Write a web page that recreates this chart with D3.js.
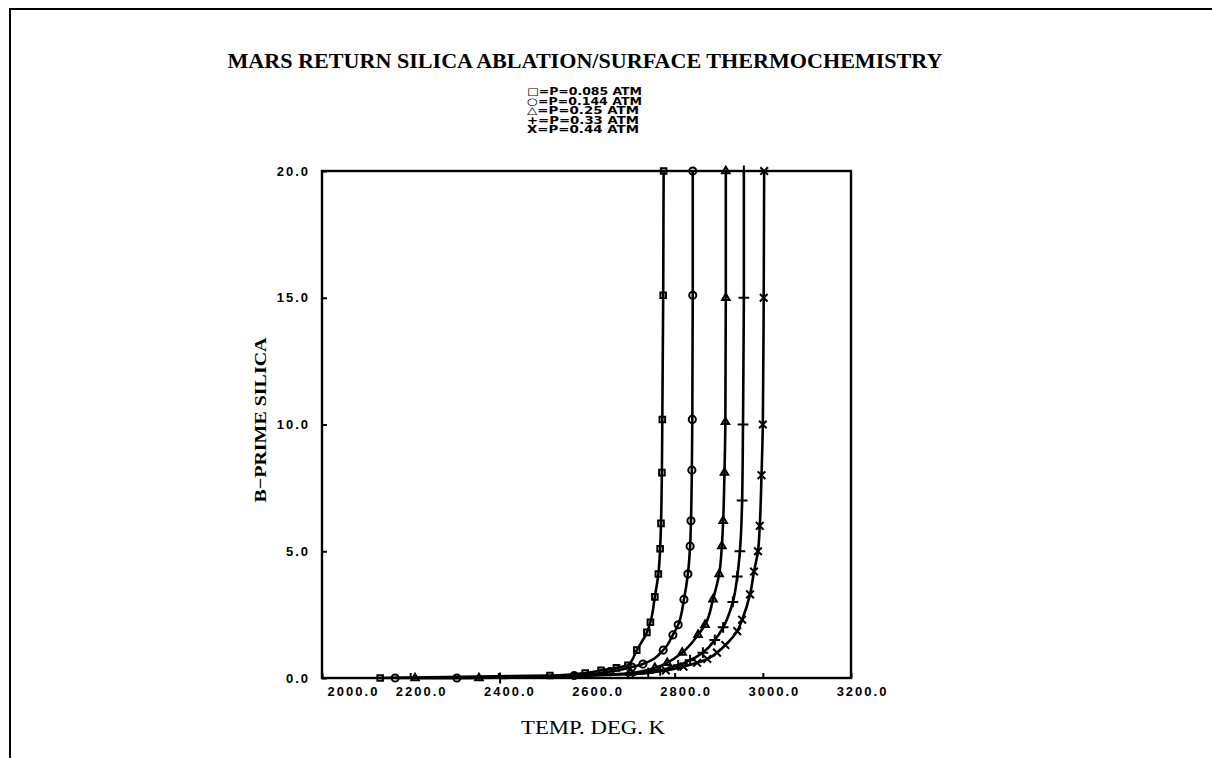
<!DOCTYPE html>
<html>
<head>
<meta charset="utf-8">
<script src="https://cdn.jsdelivr.net/npm/d3@7"></script>
<style>
  body { margin: 0; background: #fff; }
  svg { display: block; }
  .tick text { font-family: "Liberation Sans", Arial, sans-serif; font-weight: bold; font-size: 13px; letter-spacing: 2px; fill: #000; }
  .tick line { stroke: #000; stroke-width: 2; }
</style>
</head>
<body>
<svg id="chart" width="1212" height="758"></svg>
<script>
// series: temperature (K) and B-prime values
var tempSquare = [2132, 2517, 2597, 2633, 2668, 2694, 2714, 2737, 2745, 2755, 2763, 2767, 2769, 2771, 2772, 2774, 2775];
var bSquare    = [0, 0.1, 0.2, 0.3, 0.4, 0.5, 1.1, 1.8, 2.2, 3.2, 4.1, 5.1, 6.1, 8.1, 10.2, 15.1, 20.0];

var tempCircle = [2166, 2306, 2572, 2653, 2703, 2728, 2774, 2796, 2808, 2821, 2830, 2835, 2837, 2839, 2840, 2841, 2841];
var bCircle    = [0, 0, 0.1, 0.25, 0.43, 0.55, 1.1, 1.7, 2.1, 3.1, 4.1, 5.2, 6.2, 8.2, 10.2, 15.1, 20.0];

var tempTriangle = [2211, 2356, 2700, 2755, 2783, 2817, 2853, 2869, 2887, 2901, 2907, 2910, 2913, 2915, 2916, 2916];
var bTriangle    = [0, 0, 0.2, 0.4, 0.6, 1.0, 1.7, 2.1, 3.1, 4.1, 5.2, 6.2, 8.1, 10.1, 15.0, 20.0];

var tempPlus = [2404, 2740, 2767, 2808, 2835, 2864, 2891, 2910, 2932, 2942, 2948, 2953, 2955, 2957, 2957];
var bPlus    = [0, 0.2, 0.3, 0.5, 0.7, 1.0, 1.5, 2.0, 3.0, 4.0, 5.0, 7.0, 10.0, 15.0, 20.0];

var tempCross = [2700, 2780, 2820, 2851, 2874, 2896, 2915, 2942, 2953, 2971, 2980, 2989, 2993, 2997, 3000, 3002, 3003];
var bCross    = [0.15, 0.3, 0.45, 0.6, 0.75, 1.0, 1.3, 1.85, 2.3, 3.3, 4.2, 5.0, 6.0, 8.0, 10.0, 15.0, 20.0];

var legendLabels = ["\u25A1=P=0.085 ATM", "\u25CB=P=0.144 ATM", "\u25B3=P=0.25 ATM", "+=P=0.33 ATM", "X=P=0.44 ATM"];
var xTicks = [2000, 2200, 2400, 2600, 2800, 3000, 3200];
var yTicks = [0, 5, 10, 15, 20];

var series = [
  {t: tempSquare, b: bSquare, sym: d3.symbolSquare2},
  {t: tempCircle, b: bCircle, sym: d3.symbolCircle},
  {t: tempTriangle, b: bTriangle, sym: d3.symbolTriangle2},
  {t: tempPlus, b: bPlus, sym: d3.symbolPlus},
  {t: tempCross, b: bCross, sym: d3.symbolTimes}
];

var svg = d3.select("#chart");
var M = {left: 322, top: 171},
    W = 529, H = 507;

// page border from the scan
svg.append("path")
  .attr("d", "M1212,9 L10,9 L10,758")
  .attr("fill", "none").attr("stroke", "#000").attr("stroke-width", 2);

svg.append("text")
  .attr("x", 585).attr("y", 68)
  .attr("text-anchor", "middle")
  .attr("textLength", 715).attr("lengthAdjust", "spacingAndGlyphs")
  .style("font-family", "'Liberation Serif', 'Times New Roman', serif")
  .style("font-weight", "bold")
  .style("font-size", "21px")
  .text("MARS RETURN SILICA ABLATION/SURFACE THERMOCHEMISTRY");

svg.append("g").selectAll("text")
  .data(legendLabels)
  .join("text")
  .attr("x", 527)
  .attr("y", function (d, i) { return 95 + i * 9.5; })
  .attr("textLength", function (d, i) { return i < 2 ? 115 : 112; })
  .attr("lengthAdjust", "spacingAndGlyphs")
  .style("font-family", "'DejaVu Sans', sans-serif")
  .style("font-weight", "bold")
  .style("font-size", "10px")
  .text(function (d) { return d; });

var x = d3.scaleLinear().domain([2000, 3200]).range([0, W]);
var y = d3.scaleLinear().domain([0, 20]).range([H, 0]);

var g = svg.append("g").attr("transform", "translate(" + M.left + "," + M.top + ")");

g.append("rect")
  .attr("width", W).attr("height", H)
  .attr("fill", "none").attr("stroke", "#000").attr("stroke-width", 2.4);

var yAxis = g.append("g")
  .call(d3.axisLeft(y).tickValues(yTicks).tickSize(-5).tickPadding(12).tickFormat(d3.format(".1f")));
yAxis.select(".domain").remove();

var xAxis = g.append("g")
  .attr("transform", "translate(0," + H + ")")
  .call(d3.axisBottom(x).tickValues(xTicks).tickSize(-5).tickPadding(9).tickFormat(d3.format(".1f")));
xAxis.select(".domain").remove();
xAxis.selectAll(".tick text").attr("dx", function (d) { return d === 2000 ? 31 : 11; });

var line = d3.line()
  .x(function (d) { return x(d[0]); })
  .y(function (d) { return y(d[1]); })
  .curve(d3.curveMonotoneY);

series.forEach(function (s) {
  var pts = s.t.map(function (t, i) { return [t, s.b[i]]; });
  g.append("path")
    .attr("d", line(pts))
    .attr("fill", "none").attr("stroke", "#000").attr("stroke-width", 2.6);
  g.append("g").selectAll("path")
    .data(pts)
    .join("path")
    .attr("transform", function (d) { return "translate(" + x(d[0]) + "," + y(d[1]) + ")"; })
    .attr("d", d3.symbol().type(s.sym).size(40))
    .attr("fill", "none").attr("stroke", "#000").attr("stroke-width", 2);
});

svg.append("text")
  .attr("transform", "translate(266,420) rotate(-90)")
  .attr("text-anchor", "middle")
  .attr("textLength", 165).attr("lengthAdjust", "spacingAndGlyphs")
  .style("font-family", "'Liberation Serif', 'Times New Roman', serif")
  .style("font-weight", "bold")
  .style("font-size", "17px")
  .text("B\u2212PRIME SILICA");

svg.append("text")
  .attr("x", 593).attr("y", 734)
  .attr("text-anchor", "middle")
  .attr("textLength", 144).attr("lengthAdjust", "spacingAndGlyphs")
  .style("font-family", "'Liberation Serif', 'Times New Roman', serif")
  .style("font-size", "18px")
  .text("TEMP. DEG. K");
</script>
</body>
</html>
